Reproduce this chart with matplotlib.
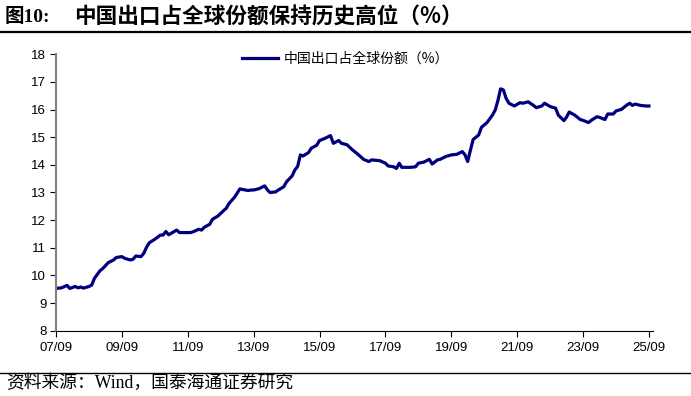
import matplotlib
matplotlib.use("Agg")
import matplotlib.pyplot as plt
from matplotlib.lines import Line2D
import pandas as pd

plt.rcParams['font.family'] = ['Liberation Sans', 'Noto Sans CJK SC', 'DejaVu Sans']

months = ["2007-09", "2007-11", "2008-01", "2008-02", "2008-04", "2008-05", "2008-06", "2008-07",
          "2008-09", "2008-10", "2008-11", "2009-01", "2009-02", "2009-04", "2009-06", "2009-07",
          "2009-09", "2009-10", "2009-12", "2010-01", "2010-02", "2010-04", "2010-05", "2010-06",
          "2010-07", "2010-09", "2010-10", "2010-11", "2010-12", "2011-01", "2011-02", "2011-04",
          "2011-05", "2011-06", "2011-08", "2011-10", "2011-11", "2012-01", "2012-02", "2012-03",
          "2012-05", "2012-06", "2012-08", "2012-10", "2012-11", "2012-12", "2013-02", "2013-03",
          "2013-04", "2013-05", "2013-07", "2013-08", "2013-09", "2013-11", "2013-12", "2014-01",
          "2014-02", "2014-03", "2014-05", "2014-06", "2014-08", "2014-09", "2014-11", "2014-12",
          "2015-01", "2015-02", "2015-03", "2015-05", "2015-06", "2015-08", "2015-09", "2015-11",
          "2016-01", "2016-02", "2016-04", "2016-05", "2016-07", "2016-09", "2016-11", "2017-01",
          "2017-03", "2017-04", "2017-07", "2017-09", "2017-10", "2017-12", "2018-01", "2018-02",
          "2018-03", "2018-06", "2018-08", "2018-09", "2018-11", "2019-01", "2019-02", "2019-04",
          "2019-05", "2019-07", "2019-09", "2019-11", "2020-01", "2020-02", "2020-03", "2020-04",
          "2020-05", "2020-07", "2020-08", "2020-10", "2020-12", "2021-01", "2021-02", "2021-03",
          "2021-04", "2021-05", "2021-06", "2021-08", "2021-10", "2021-11", "2022-01", "2022-03",
          "2022-04", "2022-06", "2022-07", "2022-09", "2022-11", "2022-12", "2023-02", "2023-03",
          "2023-04", "2023-06", "2023-08", "2023-09", "2023-11", "2023-12", "2024-02", "2024-03",
          "2024-05", "2024-06", "2024-08", "2024-09", "2024-11", "2025-01", "2025-02", "2025-03",
          "2025-04", "2025-06", "2025-08", "2025-09"]

share = [9.53, 9.55, 9.64, 9.53, 9.60, 9.55, 9.58, 9.54,
         9.60, 9.65, 9.90, 10.17, 10.25, 10.46, 10.56, 10.65,
         10.68, 10.62, 10.56, 10.58, 10.70, 10.68, 10.80, 11.02,
         11.18, 11.31, 11.38, 11.46, 11.46, 11.59, 11.47, 11.58,
         11.64, 11.55, 11.55, 11.55, 11.58, 11.67, 11.64, 11.74,
         11.85, 12.03, 12.15, 12.34, 12.43, 12.60, 12.83, 12.97,
         13.13, 13.11, 13.07, 13.09, 13.09, 13.14, 13.19, 13.24,
         13.09, 13.00, 13.02, 13.09, 13.21, 13.39, 13.60, 13.81,
         13.94, 14.36, 14.32, 14.44, 14.60, 14.71, 14.88, 14.96,
         15.06, 14.78, 14.88, 14.78, 14.73, 14.54, 14.38, 14.20,
         14.12, 14.18, 14.15, 14.06, 13.96, 13.93, 13.87, 14.06,
         13.91, 13.91, 13.93, 14.06, 14.10, 14.20, 14.03, 14.18,
         14.20, 14.30, 14.36, 14.38, 14.48, 14.36, 14.12, 14.54,
         14.92, 15.08, 15.36, 15.53, 15.80, 15.99, 16.35, 16.75,
         16.71, 16.41, 16.23, 16.13, 16.25, 16.23, 16.28, 16.15,
         16.07, 16.13, 16.23, 16.11, 16.05, 15.80, 15.60, 15.72,
         15.91, 15.80, 15.64, 15.61, 15.53, 15.61, 15.74, 15.72,
         15.64, 15.84, 15.84, 15.95, 16.01, 16.17, 16.23, 16.15,
         16.20, 16.15, 16.13, 16.13]

xtick_labels = ["07/09", "09/09", "11/09", "13/09", "15/09", "17/09", "19/09", "21/09", "23/09", "25/09"]
yticks = [8, 9, 10, 11, 12, 13, 14, 15, 16, 17, 18]

title_head = "图10:"
title_text = "中国出口占全球份额保持历史高位（%）"
legend_label = "中国出口占全球份额（%）"
source_text = "资料来源：Wind，国泰海通证券研究"

dates = pd.to_datetime(months, format="%Y-%m")
xtick_dates = pd.to_datetime(["20" + s[:2] + "-" + s[3:] for s in xtick_labels], format="%Y-%m")

fig = plt.figure(figsize=(6.91, 3.96), dpi=100)
ax = fig.add_axes([56/691, 1-330.7/396, (653-56)/691, (330.7-54.3)/396])

ax.plot(dates, share, color="#00007F", lw=2.3, label=legend_label, solid_joinstyle="round")

ax.set_ylim(8, 18)
ax.set_yticks(yticks)
ax.set_xlim(pd.Timestamp("2007-09-01"), pd.Timestamp("2025-10-16"))
ax.set_xticks(xtick_dates)
ax.set_xticklabels(xtick_labels)

for s in ["top", "right"]:
    ax.spines[s].set_visible(False)
ax.spines["left"].set_color("#808080")
ax.spines["left"].set_linewidth(1.5)
ax.spines["bottom"].set_color("#000000")
ax.spines["bottom"].set_linewidth(0.8)
ax.tick_params(axis="y", direction="out", length=4, width=0.8, color="#000000", labelsize=9.5, pad=3)
ax.tick_params(axis="x", direction="out", length=4, width=0.8, color="#000000", labelsize=9.5, pad=4)

leg = ax.legend(loc="upper left", bbox_to_anchor=(0.29, 1.055), frameon=False,
                handlelength=2.6, handletextpad=0.4,
                prop={"family": ["Noto Sans CJK SC", "DejaVu Sans"], "size": 10})

fig.text(5/691, 1-17/396, title_head, fontsize=14, fontweight="bold",
         family=["Liberation Serif", "Noto Sans CJK SC"], va="center", ha="left")
fig.text(74/691, 1-17/396, title_text, fontsize=15.6, fontweight="bold",
         family=["Noto Sans CJK SC", "DejaVu Sans"], va="center", ha="left")
fig.add_artist(Line2D([0, 1], [1-31.5/396, 1-31.5/396], color="black", lw=1.6, transform=fig.transFigure))
fig.add_artist(Line2D([0, 1], [1-372.5/396, 1-372.5/396], color="black", lw=1.0, transform=fig.transFigure))
fig.text(6/691, 1-383/396, source_text, fontsize=12.8,
         family=["Liberation Serif", "Noto Sans CJK SC", "DejaVu Sans"], va="center", ha="left")

fig.savefig("out.png", dpi=100)
